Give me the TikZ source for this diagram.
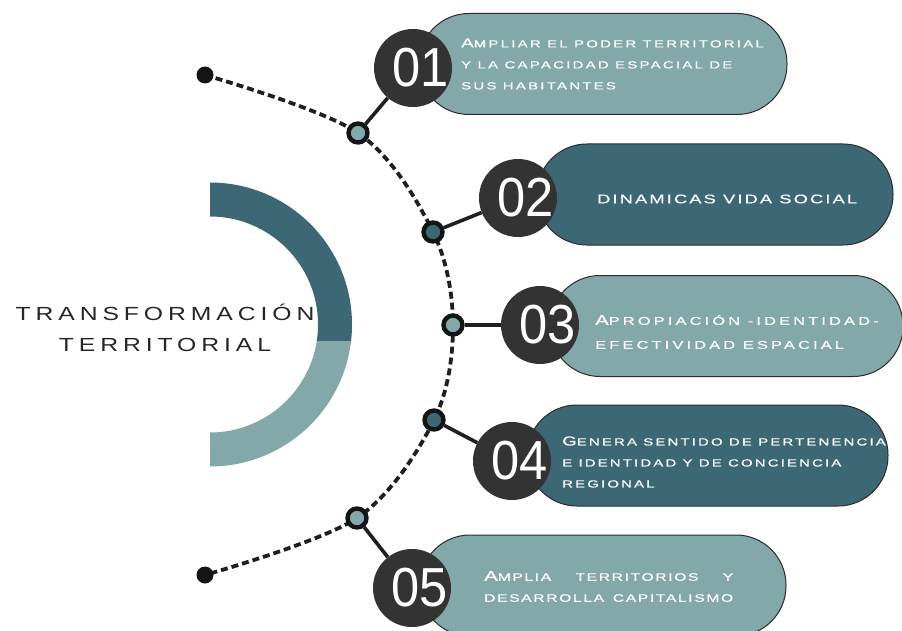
\documentclass[tikz,border=0pt]{standalone}
\usepackage{fontspec}
\setmainfont{Liberation Sans}
\newfontfamily\wfa[FakeStretch=1.45,LetterSpace=22,FakeBold=0.5]{Liberation Sans}
\newfontfamily\wfb[FakeStretch=1.45,LetterSpace=17,FakeBold=0.5]{Liberation Sans}
\newfontfamily\wfc[FakeStretch=1.45,LetterSpace=28,FakeBold=0.5]{Liberation Sans}
\newfontfamily\wfd[FakeStretch=1.45,LetterSpace=21,FakeBold=0.5]{Liberation Sans}
\newfontfamily\wfe[FakeStretch=1.45,LetterSpace=15,FakeBold=0.5]{Liberation Sans}
\newfontfamily\tfont[FakeStretch=1.3,LetterSpace=26]{Liberation Sans}
\newfontfamily\nfont[FakeStretch=0.92]{Liberation Sans}
\definecolor{tlight}{HTML}{82A8AA}
\definecolor{tdark}{HTML}{3C6876}
\definecolor{numgray}{HTML}{333333}
\definecolor{outl}{HTML}{2B2B2B}
\definecolor{titlegray}{HTML}{262626}
\newcommand\ic[2][13]{{\fontsize{#1}{#1}\selectfont #2}}
\begin{document}
\begin{tikzpicture}[x=1pt,y=-1pt,
  pill/.style={draw=outl, line width=1pt, rounded corners=50pt, minimum height=101pt, inner sep=0pt},
  numc/.style={circle, fill=numgray, minimum size=78pt, inner sep=0pt},
  numtxt/.style={text=white, inner sep=0pt, font=\nfont\fontsize{55}{55}\selectfont},
  dotc/.style={circle, draw=black!92, line width=4.4pt, minimum size=19pt, inner sep=0pt},
  enddot/.style={circle, fill=black!92, minimum size=17pt, inner sep=0pt},
  dashline/.style={line width=3.8pt, dash pattern=on 7pt off 4pt, black!88},
  link/.style={line width=3.6pt, black!88},
  ptext/.style={text=white, align=left, anchor=west, inner sep=0pt}]
\useasboundingbox (0,0) rectangle (902,631);
% half ring
\begin{scope}
  \clip (210,340) rectangle (400,480);
  \fill[tlight, even odd rule] (210,324.5) circle[radius=142] (210,324.5) circle[radius=108];
\end{scope}
\begin{scope}
  \clip (210,170) rectangle (400,340);
  \fill[tdark, even odd rule] (210,324.5) circle[radius=142] (210,324.5) circle[radius=108];
\end{scope}
\node[align=center, text=titlegray, font=\tfont\fontsize{19}{31}\selectfont] (title) at (165,328) {TRANSFORMACIÓN\\TERRITORIAL};
% dashed path
\coordinate (p0) at (205,75);
\coordinate (p1) at (358,133);
\coordinate (p2) at (433,232);
\coordinate (p3) at (453,325);
\coordinate (p4) at (434,420);
\coordinate (p5) at (357,518);
\coordinate (p6) at (205,575);
\draw[dashline] plot[smooth, tension=0.55] coordinates {(p0) (p1) (p2) (p3) (p4) (p5) (p6)};
\node[enddot] (d0) at (p0) {};
\node[enddot] (d6) at (p6) {};
% pills
\node[pill, fill=tlight, minimum width=368pt] (b1) at (603,64) {};
\node[pill, fill=tdark, minimum width=356pt] (b2) at (715,194.5) {};
\node[pill, fill=tlight, minimum width=353pt] (b3) at (726.5,326) {};
\node[pill, fill=tdark, minimum width=361pt] (b4) at (707.5,455.5) {};
\node[pill, fill=tlight, minimum width=366pt] (b5) at (603,585.5) {};
% small circles
\node[dotc, fill=tlight] (c1) at (p1) {};
\node[dotc, fill=tdark] (c2) at (p2) {};
\node[dotc, fill=tlight] (c3) at (p3) {};
\node[dotc, fill=tdark] (c4) at (p4) {};
\node[dotc, fill=tlight] (c5) at (p5) {};
% number circles
\node[numc, label={[numtxt, xshift=8pt]center:01}] (n1) at (413,68) {};
\node[numc, label={[numtxt, xshift=8pt]center:02}] (n2) at (518,198) {};
\node[numc, label={[numtxt, xshift=8pt]center:03}] (n3) at (540,325) {};
\node[numc, label={[numtxt, xshift=8pt]center:04}] (n4) at (512,461) {};
\node[numc, label={[numtxt, xshift=8pt]center:05}] (n5) at (412,588) {};
% connectors
\draw[link] (c1) -- (n1);
\draw[link] (c2) -- (n2);
\draw[link] (c3) -- (n3);
\draw[link] (c4) -- (n4);
\draw[link] (c5) -- (n5);
% texts
\node[ptext, font=\wfa\fontsize{10.3}{21}\selectfont] (t1) at (461,64) {\ic{A}MPLIAR EL PODER TERRITORIAL\\Y LA CAPACIDAD ESPACIAL DE\\SUS HABITANTES};
\node[ptext, font=\wfb\fontsize{12.6}{14}\selectfont] (t2) at (597,199) {DINAMICAS VIDA SOCIAL};
\node[ptext, font=\wfc\fontsize{11.3}{24}\selectfont] (t3) at (595,332) {\ic[14]{A}PROPIACIÓN -IDENTIDAD-\\EFECTIVIDAD ESPACIAL};
\node[ptext, font=\wfd\fontsize{10.3}{21}\selectfont] (t4) at (562,462) {\ic{G}ENERA SENTIDO DE PERTENENCIA\\E IDENTIDAD Y DE CONCIENCIA\\REGIONAL};
\node[ptext, font=\wfe\fontsize{10.8}{21}\selectfont] (t5) at (484,586.5) {\makebox[249pt][s]{\ic[14]{A}MPLIA TERRITORIOS Y}\\\makebox[249pt][s]{DESARROLLA CAPITALISMO}};
\end{tikzpicture}
\end{document}
